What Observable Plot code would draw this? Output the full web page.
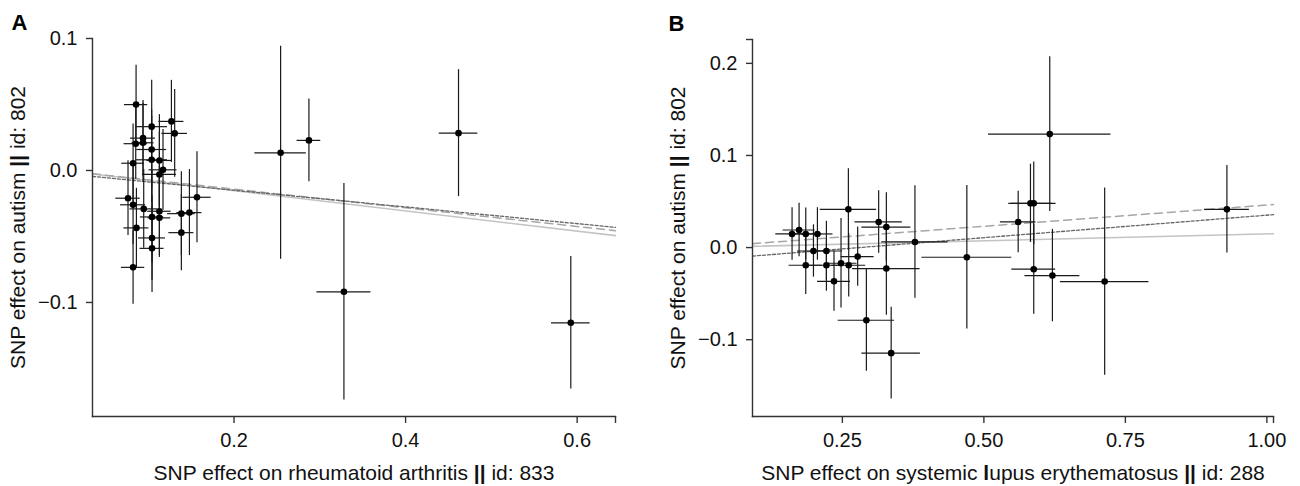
<!DOCTYPE html>
<html>
<head>
<meta charset="utf-8">
<script src="https://cdn.jsdelivr.net/npm/d3@7"></script>
<script src="https://cdn.jsdelivr.net/npm/@observablehq/plot@0.6"></script>
<style>
  html, body { margin: 0; padding: 0; background: #fff; }
  #wrap { display: flex; width: 1300px; height: 486px; }
  #wrap svg { display: block; }
</style>
</head>
<body>
<div id="wrap"></div>
<script>
// ---------- Panel A: rheumatoid arthritis (x) vs autism (y) ----------
const A_bx = [0.0858,0.1040,0.1270,0.1308,0.0939,0.0854,0.0939,0.1040,0.0823,0.1040,0.1130,0.1172,0.1130,0.1568,0.0764,0.0823,0.0947,0.1130,0.1044,0.1130,0.1386,0.1480,0.0862,0.1386,0.1044,0.1044,0.0823,0.2543,0.2873,0.4617,0.3281,0.5926];
const A_by = [0.0499,0.0332,0.0372,0.0281,0.0245,0.0203,0.0210,0.0159,0.0055,0.0081,0.0076,0.0005,-0.0030,-0.0203,-0.0210,-0.0260,-0.0291,-0.0309,-0.0352,-0.0359,-0.0327,-0.0319,-0.0435,-0.0471,-0.0511,-0.0590,-0.0734,0.0134,0.0228,0.0283,-0.0919,-0.1154];
const A_ex = [0.0136,0.0184,0.0146,0.0149,0.0146,0.0136,0.0128,0.0175,0.0132,0.0184,0.0146,0.0163,0.0198,0.0165,0.0142,0.0146,0.0160,0.0136,0.0136,0.0132,0.0161,0.0146,0.0146,0.0146,0.0157,0.0140,0.0136,0.0300,0.0138,0.0225,0.0315,0.0225];
const A_ey = [0.0298,0.0352,0.0311,0.0332,0.0286,0.0270,0.0300,0.0300,0.0298,0.0330,0.0347,0.0306,0.0320,0.0345,0.0283,0.0300,0.0298,0.0336,0.0350,0.0300,0.0317,0.0326,0.0300,0.0289,0.0320,0.0334,0.0279,0.0807,0.0314,0.0481,0.0820,0.0502];
const A_slopes = [-0.0766, -0.0707, -0.0633];
const A_intercepts = [0, 0, -0.0023];
const A_xTicks = [0.2, 0.4, 0.6];
const A_yTicks = [-0.1, 0.0, 0.1];

// ---------- Panel B: systemic lupus erythematosus (x) vs autism (y) ----------
const B_bx = [0.1611,0.1735,0.1853,0.2059,0.1989,0.2218,0.1853,0.2218,0.2352,0.2476,0.2612,0.2606,0.2770,0.3141,0.3277,0.3277,0.3782,0.2924,0.3362,0.4699,0.6164,0.5823,0.5881,0.5606,0.5881,0.6211,0.7134,0.9294];
const B_by = [0.0148,0.0191,0.0148,0.0148,-0.0037,-0.0037,-0.0192,-0.0192,-0.0366,-0.0170,-0.0192,0.0415,-0.0098,0.0278,0.0223,-0.0228,0.0061,-0.0789,-0.1146,-0.0105,0.1232,0.0480,0.0480,0.0278,-0.0235,-0.0304,-0.0369,0.0415];
const B_ex = [0.0288,0.0282,0.0282,0.0275,0.0282,0.0282,0.0295,0.0300,0.0291,0.0282,0.0300,0.0498,0.0291,0.0418,0.0432,0.0596,0.0586,0.0498,0.0517,0.0794,0.1082,0.0383,0.0394,0.0314,0.0388,0.0485,0.0782,0.0397];
const B_ey = [0.0285,0.0290,0.0282,0.0285,0.0284,0.0322,0.0318,0.0282,0.0325,0.0485,0.0344,0.0441,0.0322,0.0339,0.0372,0.0507,0.0611,0.0555,0.0499,0.0778,0.0841,0.0425,0.0448,0.0334,0.0488,0.0502,0.1016,0.0475];
const B_slopes = [0.0148, 0.0462, 0.0489];
const B_intercepts = [0, 0, -0.0137];
const B_xTicks = [0.25, 0.50, 0.75, 1.00];
const B_yTicks = [-0.1, 0.0, 0.1, 0.2];

const lineStyles = [
  {stroke: "#c4c4c4", strokeWidth: 1.6},
  {stroke: "#a6a6a6", strokeWidth: 1.5, strokeDasharray: "8,5"},
  {stroke: "#666666", strokeWidth: 1.3, strokeDasharray: "3,2"}
];

const FONT = "'Liberation Sans', Arial, Helvetica, sans-serif";

function panel(cfg) {
  const pts = cfg.bx.map((x, i) => ({x, y: cfg.by[i], ex: cfg.ex[i], ey: cfg.ey[i]}));
  const [x0, x1] = cfg.xDomain;
  const [y0, y1] = cfg.yDomain;
  const lineMarks = cfg.slopes.map((s, k) =>
    Plot.line([x0, x1].map(x => ({x, y: cfg.intercepts[k] + s * x})), {x: "x", y: "y", ...lineStyles[k]})
  );
  const xt = cfg.xTicks, yt = cfg.yTicks;
  return Plot.plot({
    width: 650,
    height: 486,
    marginLeft: cfg.ml,
    marginRight: cfg.mr,
    marginTop: cfg.mt,
    marginBottom: 70,
    style: {fontFamily: FONT, fontSize: "20px", color: "#111", background: "white", overflow: "visible"},
    x: {domain: cfg.xDomain},
    y: {domain: cfg.yDomain},
    marks: [
      ...lineMarks,
      Plot.ruleX(pts, {x: "x", y1: d => d.y - d.ey, y2: d => d.y + d.ey, stroke: "#1a1a1a", strokeWidth: 1.2}),
      Plot.ruleY(pts, {y: "y", x1: d => d.x - d.ex, x2: d => d.x + d.ex, stroke: "#1a1a1a", strokeWidth: 1.2}),
      Plot.dot(pts, {x: "x", y: "y", r: 3.3, fill: "#000", stroke: null}),
      Plot.frame({anchor: "left", stroke: "#333", strokeWidth: 1.4}),
      Plot.frame({anchor: "bottom", stroke: "#333", strokeWidth: 1.4}),
      Plot.axisX({ticks: [...xt, x1], tickFormat: d => xt.includes(d) ? cfg.xFmt(d) : "",
                  tickSize: 7, tickPadding: 9, label: null, stroke: "#333", strokeWidth: 1.4, fontSize: 20}),
      Plot.axisY({ticks: cfg.extraYTop ? [...yt, y1] : yt, tickFormat: d => yt.includes(d) ? cfg.yFmt(d) : "",
                  tickSize: 6, tickPadding: 9, label: null, stroke: "#333", strokeWidth: 1.4, fontSize: 20}),
      Plot.text([cfg.xLabel], {frameAnchor: "bottom", dy: 57, text: d => d, fontSize: 21,
                 textAnchor: "middle", lineAnchor: "middle", fill: "#111"}),
      Plot.text([cfg.yLabel], {frameAnchor: "left", dx: -74, rotate: -90, text: d => d, fontSize: 21,
                 textAnchor: "middle", lineAnchor: "middle", fill: "#111"}),
      Plot.text([cfg.tag], {frameAnchor: "top-left", dx: cfg.tagDx, dy: -16, text: d => d, fontSize: 22,
                 fontWeight: "bold", textAnchor: "start", lineAnchor: "middle", fill: "#000"})
    ]
  });
}

function boldify(svg, boldParts) {
  svg.querySelectorAll("text").forEach(t => {
    if (t.children.length) return;
    const s = t.textContent;
    if (!boldParts.some(b => s.includes(b.find))) return;
    let html = s;
    boldParts.forEach(b => {
      html = html.split(b.find).join(b.replace);
    });
    t.innerHTML = html;
  });
}

const wrap = document.getElementById("wrap");

const svgA = panel({
  bx: A_bx, by: A_by, ex: A_ex, ey: A_ey,
  slopes: A_slopes, intercepts: A_intercepts,
  xDomain: [0.035, 0.6447], yDomain: [-0.1864, 0.1],
  xTicks: A_xTicks, yTicks: A_yTicks,
  xFmt: d3.format(".1f"), yFmt: d3.format(".1f"),
  ml: 92, mr: 35, mt: 38, extraYTop: false,
  xLabel: "SNP effect on rheumatoid arthritis || id: 833",
  yLabel: "SNP effect on autism || id: 802",
  tag: "A", tagDx: -81
});

const svgB = panel({
  bx: B_bx, by: B_by, ex: B_ex, ey: B_ey,
  slopes: B_slopes, intercepts: B_intercepts,
  xDomain: [0.0912, 1.0117], yDomain: [-0.1834, 0.2259],
  xTicks: B_xTicks, yTicks: B_yTicks,
  xFmt: d3.format(".2f"), yFmt: d3.format(".1f"),
  ml: 102, mr: 27, mt: 39, extraYTop: true,
  xLabel: "SNP effect on systemic lupus erythematosus || id: 288",
  yLabel: "SNP effect on autism || id: 802",
  tag: "B", tagDx: -84
});

const B = '<tspan font-weight="bold">';
boldify(svgA, [{find: "||", replace: B + "||</tspan>"}]);
boldify(svgB, [{find: "||", replace: B + "||</tspan>"}, {find: "systemic lupus", replace: "systemic " + B + "l</tspan>upus"}]);

wrap.appendChild(svgA);
wrap.appendChild(svgB);
</script>
</body>
</html>
